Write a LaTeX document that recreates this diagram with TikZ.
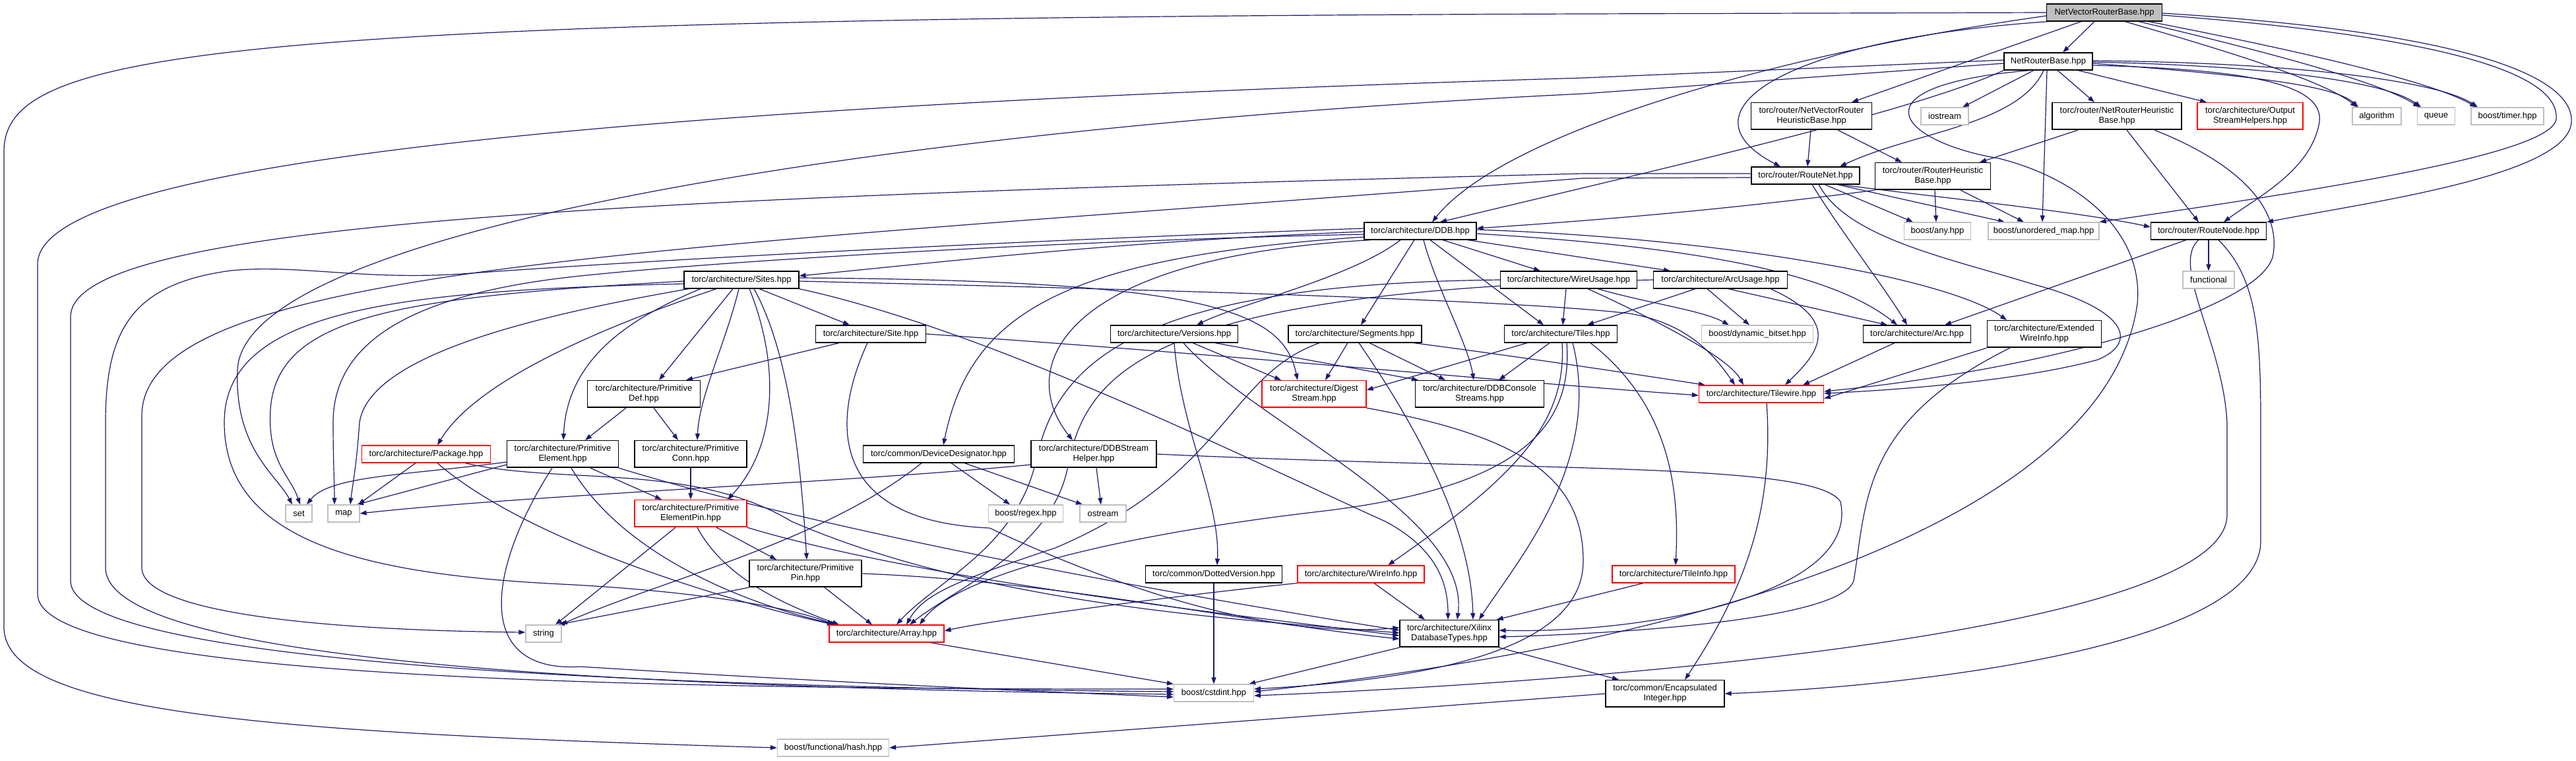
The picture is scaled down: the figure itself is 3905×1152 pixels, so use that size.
\documentclass[tikz,border=0pt]{standalone}
\usepackage{fontspec}
\setmainfont{Liberation Sans}
\usetikzlibrary{arrows.meta}
\definecolor{edgec}{HTML}{191970}
\definecolor{sysg}{HTML}{BFBFBF}
\definecolor{rootf}{HTML}{BFBFBF}
\newcommand\dxfont{\fontsize{13}{15}\selectfont}
\pgfdeclarelayer{bg}
\pgfsetlayers{bg,main}
\begin{document}
\begin{tikzpicture}[x=1pt,y=-1pt,
 lnk/.style={draw=edgec, line width=1.2pt, -{Triangle[length=10pt,width=7pt]}},
 bx/.style={draw=#1, line width=1.2pt, fill=white, minimum height=26pt, inner xsep=3pt, inner ysep=1pt, align=center, font=\dxfont,
   path picture={\draw[line width=3pt,#1] (path picture bounding box.south west) -- (path picture bounding box.south east);}},
 bx/.default=black,
 two/.style={minimum height=41pt}]
\useasboundingbox (0,0) rectangle (3905,1152);

\node[bx, fill=rootf, minimum width=175pt] (root) at (3190,19) {NetVectorRouterBase.hpp};
\node[bx, minimum width=134pt] (nrb) at (3105,93) {NetRouterBase.hpp};
\node[bx, two, minimum width=183pt] (nvrhb) at (2746,176) {torc/router/NetVectorRouter\\HeuristicBase.hpp};
\node[bx=sysg, minimum width=72pt] (iostream) at (2948,176) {iostream};
\node[bx, two, minimum width=196pt] (nrhb) at (3209,176) {torc/router/NetRouterHeuristic\\Base.hpp};
\node[bx=red, two, minimum width=160pt] (osh) at (3411,176) {torc/architecture/Output\\StreamHelpers.hpp};
\node[bx=sysg, minimum width=74pt] (algorithm) at (3603,176) {algorithm};
\node[bx=sysg, minimum width=57pt] (queue) at (3693,176) {queue};
\node[bx=sysg, minimum width=110pt] (timer) at (3801,176) {boost/timer.hpp};
\node[bx, minimum width=164pt] (routenet) at (2737,266) {torc/router/RouteNet.hpp};
\node[bx, two, minimum width=175pt] (rhb) at (2930,267) {torc/router/RouterHeuristic\\Base.hpp};
\node[bx, minimum width=170pt] (ddb) at (2153,350) {torc/architecture/DDB.hpp};
\node[bx=sysg, minimum width=101pt] (any) at (2937,350) {boost/any.hpp};
\node[bx=sysg, minimum width=168pt] (umap) at (3098,350) {boost/unordered\_map.hpp};
\node[bx, minimum width=175pt] (routenode) at (3348,350) {torc/router/RouteNode.hpp};
\node[bx, minimum width=174pt] (sites) at (1124,424) {torc/architecture/Sites.hpp};
\node[bx, minimum width=207pt] (wireusage) at (2378,424) {torc/architecture/WireUsage.hpp};
\node[bx, minimum width=203pt] (arcusage) at (2608,424) {torc/architecture/ArcUsage.hpp};
\node[bx=sysg, minimum width=78pt] (functional) at (3348,424) {functional};
\node[bx, minimum width=167pt] (site) at (1320,506) {torc/architecture/Site.hpp};
\node[bx, minimum width=193pt] (versions) at (1780,506) {torc/architecture/Versions.hpp};
\node[bx, minimum width=202pt] (segments) at (2054,506) {torc/architecture/Segments.hpp};
\node[bx, minimum width=171pt] (tiles) at (2366,506) {torc/architecture/Tiles.hpp};
\node[bx=sysg, minimum width=169pt] (bitset) at (2664,506) {boost/dynamic\_bitset.hpp};
\node[bx, minimum width=163pt] (arc) at (2906,506) {torc/architecture/Arc.hpp};
\node[bx, two, minimum width=173pt] (ewi) at (3099,506) {torc/architecture/Extended\\WireInfo.hpp};
\node[bx, two, minimum width=171pt] (primdef) at (976,597) {torc/architecture/Primitive\\Def.hpp};
\node[bx=red, two, minimum width=158pt] (digest) at (1992,597) {torc/architecture/Digest\\Stream.hpp};
\node[bx, two, minimum width=195pt] (ddbcs) at (2243,597) {torc/architecture/DDBConsole\\Streams.hpp};
\node[bx=red, minimum width=189pt] (tilewire) at (2670,597) {torc/architecture/Tilewire.hpp};
\node[bx=red, minimum width=195pt] (package) at (646,688) {torc/architecture/Package.hpp};
\node[bx, two, minimum width=169pt] (primelem) at (853,688) {torc/architecture/Primitive\\Element.hpp};
\node[bx, two, minimum width=170pt] (primconn) at (1047,688) {torc/architecture/Primitive\\Conn.hpp};
\node[bx, minimum width=229pt] (devdes) at (1423,688) {torc/common/DeviceDesignator.hpp};
\node[bx, two, minimum width=190pt] (ddbsh) at (1658,688) {torc/architecture/DDBStream\\Helper.hpp};
\node[bx=sysg, minimum width=40pt] (set) at (453,778) {set};
\node[bx=sysg, minimum width=48pt] (map) at (521,778) {map};
\node[bx=red, two, minimum width=170pt] (pep) at (1047,778) {torc/architecture/Primitive\\ElementPin.hpp};
\node[bx=sysg, minimum width=113pt] (regex) at (1555,778) {boost/regex.hpp};
\node[bx=sysg, minimum width=70pt] (ostream) at (1672,778) {ostream};
\node[bx, two, minimum width=170pt] (primpin) at (1221,869) {torc/architecture/Primitive\\Pin.hpp};
\node[bx, minimum width=207pt] (dotted) at (1840,870) {torc/common/DottedVersion.hpp};
\node[bx=red, minimum width=192pt] (wireinfo) at (2063,870) {torc/architecture/WireInfo.hpp};
\node[bx=red, minimum width=186pt] (tileinfo) at (2537,870) {torc/architecture/TileInfo.hpp};
\node[bx=sysg, minimum width=54pt] (string) at (824,960) {string};
\node[bx=red, minimum width=174pt] (array) at (1344,960) {torc/architecture/Array.hpp};
\node[bx, two, minimum width=150pt] (xdt) at (2197,960) {torc/architecture/Xilinx\\DatabaseTypes.hpp};
\node[bx=sysg, minimum width=121pt] (cstdint) at (1840,1050) {boost/cstdint.hpp};
\node[bx, two, minimum width=180pt] (encint) at (2524,1051) {torc/common/Encapsulated\\Integer.hpp};
\node[bx=sysg, minimum width=169pt] (hash) at (1263,1133) {boost/functional/hash.hpp};

\begin{pgfonlayer}{bg}
\fill[white] (0,0) rectangle (3905,1152);
% root
\draw[lnk] ([xshift=-15pt]root.south) -- ([xshift=22pt]nrb.north);
\draw[lnk] ([xshift=-35pt]root.south) -- ([xshift=61pt]nvrhb.north);
\draw[lnk] ([xshift=4pt]root.south west) .. controls (2700,60) and (2540,170) .. ([xshift=-38pt]routenet.north);
\draw[lnk] ([yshift=-5pt]root.west) .. controls (2700,80) and (2280,200) .. ([xshift=18pt]ddb.north);
\draw[lnk] (root.west) -- (2400,21) .. controls (300,28) and (6,80) .. (6,230) -- (6,950) .. controls (6,1080) and (400,1110) .. (hash.west);
\draw[lnk] ([xshift=31pt]root.south) .. controls (3350,70) and (3520,120) .. ([xshift=-30pt]algorithm.north);
\draw[lnk] ([xshift=52pt]root.south) .. controls (3400,70) and (3600,120) .. ([xshift=-25pt]queue.north);
\draw[lnk] ([xshift=67pt]root.south) .. controls (3450,70) and (3680,120) .. ([xshift=-47pt]timer.north);
\draw[lnk] ([yshift=-4pt]root.east) .. controls (3700,55) and (3880,110) .. (3875,180) .. controls (3870,235) and (3500,290) .. (umap.north east);
\draw[lnk] ([yshift=-1pt]root.east) .. controls (3760,50) and (3902,120) .. (3898,185) .. controls (3893,265) and (3600,305) .. (routenode.north east);
% nrb
\draw[lnk] ([xshift=-22pt]nrb.south) -- ([xshift=27pt]iostream.north);
\draw[lnk] ([xshift=-7pt]nrb.south) .. controls (3060,190) and (2900,200) .. ([xshift=52pt]routenet.north);
\draw[lnk] ([xshift=-2pt]nrb.south) -- ([xshift=-2pt]umap.north);
\draw[lnk] ([xshift=14pt]nrb.south) -- ([xshift=-34pt]nrhb.north);
\draw[lnk] ([xshift=45pt]nrb.south) -- ([xshift=-66pt]osh.north);
\draw[lnk] ([yshift=-3pt]nrb.east) .. controls (3420,115) and (3540,130) .. ([xshift=-28pt]algorithm.north);
\draw[lnk] ([yshift=-1pt]nrb.east) .. controls (3450,100) and (3620,125) .. ([xshift=-23pt]queue.north);
\draw[lnk] ([yshift=1pt]nrb.east) .. controls (3500,95) and (3700,125) .. ([xshift=-45pt]timer.north);
\draw[lnk] ([yshift=-6pt]nrb.east) .. controls (3420,105) and (3530,130) .. (3515,190) .. controls (3500,260) and (3420,300) .. ([xshift=23pt]routenode.north);
\draw[lnk] (nrb.south west) .. controls (2900,170) and (2500,260) .. ([xshift=30pt]ddb.north);
\draw[lnk] ([yshift=2pt]nrb.west) -- (2400,118) .. controls (1000,160) and (57,240) .. (57,400) -- (57,900) .. controls (57,1010) and (700,1045) .. ([yshift=6pt]cstdint.west);
\draw[lnk] ([yshift=-3pt]nrb.west) -- (2400,142) .. controls (1400,190) and (370,340) .. (360,560) .. controls (355,680) and (420,720) .. ([xshift=-10pt]set.north);
\draw[lnk] ([xshift=-27pt]nrb.south) .. controls (2800,130) and (2880,215) .. (3030,240) .. controls (3150,270) and (3250,350) .. (3240,460) .. controls (3200,750) and (2700,960) .. ([yshift=2pt]cstdint.east);
% nvrhb
\draw[lnk] ([xshift=-1pt]nvrhb.south) -- ([xshift=3pt]routenet.north);
\draw[lnk] ([xshift=40pt]nvrhb.south) -- ([xshift=-47pt]rhb.north);
% nrhb
\draw[lnk] ([xshift=-59pt]nrhb.south) -- ([xshift=71pt]rhb.north);
\draw[lnk] ([xshift=15pt]nrhb.south) -- ([xshift=-15pt]routenode.north);
\draw[lnk] ([xshift=57pt]nrhb.south) .. controls (3400,250) and (3460,320) .. (3445,390) .. controls (3420,470) and (3100,560) .. ([yshift=4pt]tilewire.east);
% routenet
\draw[lnk] ([xshift=29pt]routenet.south) -- ([xshift=-37pt]any.north);
\draw[lnk] ([xshift=48pt]routenet.south) -- ([xshift=-59pt]umap.north);
\draw[lnk] ([xshift=53pt]routenet.south) .. controls (2900,295) and (3150,320) .. ([yshift=6pt]routenode.west);
\draw[lnk] ([xshift=10pt]routenet.south) .. controls (2790,350) and (2860,440) .. ([xshift=-15pt]arc.north);
\draw[lnk] ([xshift=20pt]routenet.south) .. controls (2800,360) and (2950,390) .. (3080,430) .. controls (3230,470) and (3240,520) .. (3180,545) .. controls (3050,580) and (2850,592) .. ([yshift=1pt]tilewire.east);
\draw[lnk] ([yshift=3pt]routenet.west) -- (2400,263) .. controls (900,300) and (107,340) .. (107,480) -- (107,880) .. controls (107,1000) and (900,1040) .. ([yshift=2pt]cstdint.west);
\draw[lnk] ([yshift=-3pt]routenet.west) -- (2400,270) .. controls (1000,380) and (215,400) .. (215,630) -- (215,860) .. controls (215,930) and (500,955) .. ([yshift=2pt]string.west);
% rhb
\draw[lnk] (rhb.south west) .. controls (2600,320) and (2400,335) .. ([yshift=4pt]ddb.east);
\draw[lnk] ([xshift=3pt]rhb.south) -- ([xshift=-2pt]any.north);
\draw[lnk] ([xshift=42pt]rhb.south) -- ([xshift=-30pt]umap.north);
% ddb
\draw[lnk] ([yshift=-1pt]ddb.west) .. controls (1700,365) and (1400,400) .. ([yshift=6pt]sites.east);
\draw[lnk] ([yshift=4pt]ddb.west) .. controls (1400,370) and (900,400) .. (700,415) .. controls (550,425) and (450,400) .. (350,410) .. controls (200,430) and (160,500) .. (160,640) -- (160,860) .. controls (160,990) and (800,1040) .. ([yshift=-2pt]cstdint.west);
\draw[lnk] ([yshift=-5pt]ddb.west) .. controls (1600,365) and (1100,395) .. (880,418) .. controls (620,445) and (505,520) .. (505,640) .. controls (505,700) and (507,730) .. ([xshift=-14pt]map.north);
\draw[lnk] ([yshift=-9pt]ddb.west) .. controls (1600,390) and (1470,480) .. ([xshift=7pt]devdes.north);
\draw[lnk] ([xshift=-75pt]ddb.south) .. controls (1600,390) and (1540,560) .. ([xshift=-32pt]ddbsh.north);
\draw[lnk] ([xshift=-30pt]ddb.south) .. controls (2050,420) and (1880,460) .. ([xshift=34pt]versions.north);
\draw[lnk] ([xshift=-9pt]ddb.south) -- ([xshift=9pt]segments.north);
\draw[lnk] ([xshift=5pt]ddb.south) .. controls (2175,430) and (2225,520) .. ([xshift=-9pt]ddbcs.north);
\draw[lnk] ([xshift=15pt]ddb.south) -- ([xshift=-26pt]tiles.north);
\draw[lnk] ([xshift=34pt]ddb.south) -- ([xshift=-43pt]wireusage.north);
\draw[lnk] ([xshift=72pt]ddb.south) -- ([xshift=-76pt]arcusage.north);
\draw[lnk] ([yshift=2pt]ddb.east) .. controls (2600,360) and (2950,420) .. ([xshift=-57pt]ewi.north);
\draw[lnk] ([yshift=-4pt]ddb.east) .. controls (2500,370) and (2760,400) .. ([xshift=-30pt]arc.north);
% sites
\draw[lnk] ([xshift=27pt]sites.south) -- ([xshift=-32pt]site.north);
\draw[lnk] ([xshift=-13pt]sites.south) -- ([xshift=23pt]primdef.north);
\draw[lnk] ([xshift=-4pt]sites.south) .. controls (1100,520) and (1060,600) .. ([xshift=10pt]primconn.north);
\draw[lnk] ([xshift=12pt]sites.south) .. controls (1185,560) and (1175,680) .. ([xshift=56pt]pep.north);
\draw[lnk] ([xshift=19pt]sites.south) .. controls (1200,540) and (1215,720) .. ([xshift=2pt]primpin.north);
\draw[lnk] ([xshift=-38pt]sites.south) .. controls (900,500) and (720,580) .. ([xshift=17pt]package.north);
\draw[lnk] ([xshift=-62pt]sites.south) .. controls (960,480) and (860,540) .. ([xshift=1pt]primelem.north);
\draw[lnk] ([yshift=-2pt]sites.west) .. controls (600,450) and (420,480) .. (410,620) .. controls (405,700) and (440,720) .. ([xshift=2pt]set.north);
\draw[lnk] ([xshift=-80pt]sites.south) .. controls (800,480) and (560,540) .. (545,640) .. controls (540,710) and (535,730) .. ([xshift=10pt]map.north);
\draw[lnk] ([yshift=-6pt]sites.west) .. controls (600,440) and (340,470) .. (340,640) .. controls (340,820) and (550,870) .. (850,885) .. controls (1050,895) and (1200,920) .. ([xshift=-80pt]array.north);
\draw[lnk] (sites.south east) .. controls (1500,500) and (1900,700) .. (2100,790) .. controls (2175,830) and (2195,880) .. ([xshift=-2pt]xdt.north);
\draw[lnk] ([yshift=3pt]sites.east) .. controls (1830,425) and (1945,470) .. ([xshift=-25pt]digest.north);
\draw[lnk] ([yshift=-2pt]sites.east) .. controls (1800,440) and (2300,455) .. (2470,475) .. controls (2560,490) and (2600,540) .. ([xshift=-40pt]tilewire.north);
% site
\draw[lnk] ([xshift=-48pt]site.south) -- ([xshift=64pt]primdef.north);
\draw[lnk] ([xshift=-5pt]site.south) .. controls (1255,650) and (1265,790) .. (1500,800) .. controls (1650,870) and (1900,970) .. ([yshift=9pt]xdt.west);
\draw[lnk] (site.east) .. controls (1900,540) and (2300,580) .. ([yshift=-2pt]tilewire.west);
% versions
\draw[lnk] ([xshift=28pt]versions.south) -- ([xshift=-50pt]digest.north);
\draw[lnk] ([xshift=62pt]versions.south) -- ([xshift=-93pt]ddbcs.north);
\draw[lnk] (versions.south) .. controls (1790,650) and (1850,760) .. ([xshift=5pt]dotted.north);
\draw[lnk] ([xshift=14pt]versions.south) .. controls (1900,640) and (2230,780) .. ([xshift=12pt]xdt.north);
% segments
\draw[lnk] ([xshift=-11pt]segments.south) -- ([xshift=17pt]digest.north);
\draw[lnk] ([xshift=22pt]segments.south) -- ([xshift=-52pt]ddbcs.north);
\draw[lnk] ([xshift=89pt]segments.south) .. controls (2300,540) and (2500,570) .. ([xshift=-85pt]tilewire.north);
\draw[lnk] ([xshift=-54pt]segments.south) .. controls (1860,570) and (1860,720) .. (1600,830) .. controls (1450,880) and (1400,900) .. ([xshift=30pt]array.north);
\draw[lnk] ([xshift=6pt]segments.south) .. controls (2150,650) and (2230,800) .. ([xshift=36pt]xdt.north);
% tiles
\draw[lnk] ([xshift=-51pt]tiles.south) -- ([yshift=6pt]digest.east);
\draw[lnk] ([xshift=-17pt]tiles.south) -- ([xshift=29pt]ddbcs.north);
\draw[lnk] ([xshift=9pt]tiles.south) .. controls (2385,650) and (2300,740) .. (2000,775) .. controls (1700,810) and (1450,870) .. ([xshift=50pt]array.north);
\draw[lnk] ([xshift=18pt]tiles.south) .. controls (2430,700) and (2300,850) .. ([xshift=45pt]xdt.north);
\draw[lnk] ([xshift=2pt]tiles.south) .. controls (2375,640) and (2300,720) .. ([xshift=41pt]wireinfo.north);
\draw[lnk] ([xshift=45pt]tiles.south) .. controls (2540,620) and (2545,760) .. ([xshift=3pt]tileinfo.north);
% wireusage
\draw[lnk] ([xshift=-4pt]wireusage.south) -- ([xshift=3pt]tiles.north);
\draw[lnk] ([xshift=44pt]wireusage.south) .. controls (2500,460) and (2580,470) .. ([xshift=-43pt]bitset.north);
\draw[lnk] ([xshift=29pt]wireusage.south) .. controls (2500,480) and (2620,540) .. ([xshift=-27pt]tilewire.north);
\draw[lnk] (wireusage.west) .. controls (1700,430) and (1600,560) .. (1570,700) .. controls (1540,830) and (1420,880) .. ([xshift=15pt]array.north);
% arcusage
\draw[lnk] ([xshift=-38pt]arcusage.south) -- ([xshift=40pt]tiles.north);
\draw[lnk] ([xshift=-20pt]arcusage.south) -- ([xshift=-12pt]bitset.north);
\draw[lnk] ([xshift=12pt]arcusage.south) -- ([xshift=-45pt]arc.north);
\draw[lnk] ([xshift=76pt]arcusage.south) .. controls (2800,490) and (2750,540) .. ([xshift=36pt]tilewire.north);
\draw[lnk] (arcusage.west) .. controls (1750,440) and (1650,560) .. (1620,700) .. controls (1600,830) and (1450,890) .. ([xshift=35pt]array.north);
% arc, ewi, tilewire
\draw[lnk] ([xshift=-34pt]arc.south) -- ([xshift=63pt]tilewire.north);
\draw[lnk] (ewi.south west) -- ([yshift=-7pt]tilewire.east);
\draw[lnk] ([xshift=-52pt]ewi.south) .. controls (2820,640) and (2830,760) .. (2810,880) .. controls (2790,940) and (2450,960) .. ([yshift=-5pt]xdt.east);
\draw[lnk] ([xshift=8pt]tilewire.south) .. controls (2690,780) and (2640,900) .. ([xshift=30pt]encint.north);
% routenode
\draw[lnk] ([xshift=-34pt]routenode.south) -- ([xshift=42pt]arc.north);
\draw[lnk] (routenode.south) -- (functional.north);
\draw[lnk] ([xshift=-15pt]routenode.south) .. controls (3290,400) and (3370,520) .. (3376,640) -- (3376,780) .. controls (3376,950) and (2500,1030) .. ([yshift=-4pt]cstdint.east);
\draw[lnk] ([xshift=15pt]routenode.south) .. controls (3420,420) and (3427,500) .. (3427,640) -- (3427,820) .. controls (3427,980) and (2900,1040) .. (encint.east);
% primdef, primconn
\draw[lnk] ([xshift=-27pt]primdef.south) -- ([xshift=34pt]primelem.north);
\draw[lnk] ([xshift=15pt]primdef.south) -- ([xshift=-19pt]primconn.north);
\draw[lnk] (primconn.south) -- (pep.north);
% primelem
\draw[lnk] ([xshift=42pt]primelem.south) -- ([xshift=-44pt]pep.north);
\draw[lnk] ([yshift=-12pt]primelem.west) .. controls (620,720) and (500,720) .. ([xshift=12pt]set.north);
\draw[lnk] ([yshift=-16pt]primelem.west) -- ([xshift=20pt]map.north);
\draw[lnk] ([xshift=-16pt]primelem.south) .. controls (740,860) and (715,1020) .. (880,1010) .. controls (1200,1030) and (1500,1045) .. ([yshift=-6pt]cstdint.west);
\draw[lnk] ([xshift=13pt]primelem.south) .. controls (950,850) and (1150,920) .. ([xshift=-75pt]array.north);
\draw[lnk] (primelem.south east) .. controls (1300,820) and (1900,920) .. ([yshift=5pt]xdt.west);
% package
\draw[lnk] ([xshift=-16pt]package.south) -- ([xshift=22pt]map.north);
\draw[lnk] ([xshift=17pt]package.south) .. controls (800,820) and (1100,910) .. ([xshift=-80pt]array.north);
\draw[lnk] ([xshift=59pt]package.south) .. controls (850,735) and (1050,700) .. (1200,790) .. controls (1500,920) and (1900,940) .. ([yshift=1pt]xdt.west);
% pep
\draw[lnk] ([xshift=-23pt]pep.south) -- ([xshift=18pt]string.north);
\draw[lnk] ([xshift=10pt]pep.south) .. controls (1100,880) and (1200,920) .. ([xshift=-72pt]array.north);
\draw[lnk] ([xshift=39pt]pep.south) -- ([xshift=-44pt]primpin.north);
\draw[lnk] (pep.south east) .. controls (1400,880) and (1900,935) .. ([yshift=-3pt]xdt.west);
% primpin
\draw[lnk] (primpin.south west) -- ([xshift=22pt]string.north);
\draw[lnk] ([xshift=29pt]primpin.south) -- ([xshift=-22pt]array.north);
\draw[lnk] (primpin.east) .. controls (1600,880) and (1900,945) .. ([yshift=-8pt]xdt.west);
% devdes, ddbsh
\draw[lnk] ([xshift=-26pt]devdes.south) .. controls (1250,820) and (1000,880) .. ([xshift=26pt]string.north);
\draw[lnk] ([xshift=19pt]devdes.south) -- ([xshift=-24pt]regex.north);
\draw[lnk] ([xshift=39pt]devdes.south) -- ([xshift=-31pt]ostream.north);
\draw[lnk] ([xshift=4pt]ddbsh.south) -- ([xshift=-3pt]ostream.north);
\draw[lnk] ([yshift=-16pt]ddbsh.west) .. controls (1300,730) and (800,750) .. (map.east);
\draw[lnk] (ddbsh.east) .. controls (2350,715) and (2750,700) .. (2790,760) .. controls (2820,900) and (2500,960) .. ([yshift=5pt]xdt.east);
% lower part
\draw[lnk] (dotted.south) -- (cstdint.north);
\draw[lnk] (wireinfo.south west) .. controls (1800,900) and (1500,940) .. ([yshift=4pt]array.east);
\draw[lnk] ([xshift=20pt]wireinfo.south) -- ([xshift=-37pt]xdt.north);
\draw[lnk] ([xshift=-46pt]tileinfo.south) -- ([xshift=-4pt]xdt.north east);
\draw[lnk] ([xshift=66pt]array.south) -- (cstdint.north west);
\draw[lnk] (xdt.south west) -- ([xshift=-8pt]cstdint.north east);
\draw[lnk] (xdt.south east) -- ([xshift=-70pt]encint.north);
\draw[lnk] (encint.west) -- (hash.east);
\draw[lnk] (digest.south east) .. controls (2300,660) and (2400,720) .. (2400,850) .. controls (2400,990) and (2150,1030) .. ([yshift=6pt]cstdint.east);
\end{pgfonlayer}
\end{tikzpicture}
\end{document}
